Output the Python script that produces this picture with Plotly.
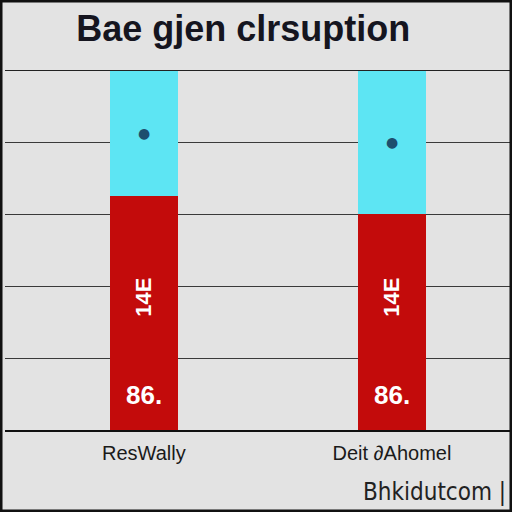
import plotly.graph_objects as go

categories = ["ResWally", "Deit \u2202Ahomel"]
red_values = [3.25, 3.0]
cyan_values = [1.75, 2.0]
red_labels = ["86.", "86."]
mid_labels = ["14E", "14E"]
cyan_labels = ["\u25cf", "\u25cf"]

title = "Bae gjen clrsuption"
watermark = "Bhkidutcom |"

RED = "#c30b0b"
CYAN = "#5de5f3"
BG = "#e3e3e3"

fig = go.Figure()
fig.add_trace(go.Bar(
    x=categories, y=red_values, marker=dict(color=RED, line=dict(width=0)),
    width=0.275, showlegend=False, hoverinfo="skip",
))
fig.add_trace(go.Bar(
    x=categories, y=cyan_values, marker=dict(color=CYAN, line=dict(width=0)),
    width=0.275, showlegend=False, hoverinfo="skip",
))

for i, c in enumerate(categories):
    fig.add_annotation(x=c, y=0.48, text=f"<b>{red_labels[i]}</b>", showarrow=False,
                       font=dict(family="Liberation Sans", size=26, color="white"))
    fig.add_annotation(x=c, y=1.85, text=f"<b>{mid_labels[i]}</b>",
                       textangle=-90, showarrow=False,
                       font=dict(family="Liberation Sans", size=22, color="white"))
    fig.add_annotation(x=c, y=red_values[i] + cyan_values[i] * 0.5, text=cyan_labels[i],
                       showarrow=False,
                       font=dict(family="DejaVu Sans", size=14, color="#1d4f6e"))

fig.update_layout(
    barmode="stack",
    width=512, height=512,
    margin=dict(l=5, r=2, t=70, b=82),
    paper_bgcolor=BG, plot_bgcolor=BG,
    title=dict(text=f"<b>{title}</b>", x=0.475, xanchor="center", y=0.945, yanchor="middle",
               font=dict(family="Liberation Sans", size=36, color="#15151f")),
    xaxis=dict(type="category", range=[-0.56, 1.476], showgrid=False,
               showline=True, linecolor="#111", linewidth=2,
               tickfont=dict(family="Liberation Sans", size=20, color="#1a1a1a"),
               ticks="outside", ticklen=4, tickcolor="rgba(0,0,0,0)"),
    yaxis=dict(range=[0, 5], dtick=1, showgrid=True, gridcolor="#3a3a3a", gridwidth=1,
               showticklabels=False, zeroline=False, showline=False),
    shapes=[
        dict(type="line", xref="paper", yref="y", x0=0, x1=1, y0=5, y1=5,
             line=dict(color="#222", width=2), layer="above"),
        dict(type="rect", xref="paper", yref="paper",
             x0=-5/505 + 0.002, x1=1 + 2/505 - 0.002, y0=-82/360 + 0.003, y1=1 + 70/360 - 0.003,
             line=dict(color="#111", width=3), fillcolor="rgba(0,0,0,0)", layer="above"),
    ],
)
fig.add_annotation(xref="paper", yref="paper", x=0.997, y=-62/360, xanchor="right", yanchor="middle",
                   text=watermark, showarrow=False,
                   font=dict(family="DejaVu Sans Condensed", size=24, color="#222"))

fig.write_html("out.html", config={"displayModeBar": False},
               post_script="document.body.style.margin='0';document.body.style.background='#e3e3e3';")
